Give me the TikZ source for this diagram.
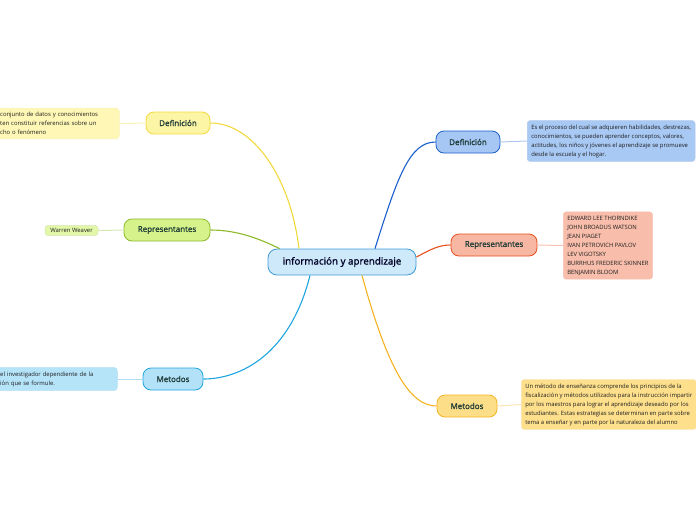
\documentclass[tikz,border=0pt]{standalone}
\usepackage{fontspec}
\setmainfont{Open Sans}
\newfontfamily\semibold{Open Sans}[FakeBold=1.3]
\usepackage{tikz}
\usetikzlibrary{calc}

\definecolor{centerfill}{HTML}{CDE9FA}
\definecolor{centerline}{HTML}{3F9BD6}
\definecolor{yelfill}{HTML}{FDF5A6}
\definecolor{yelline}{HTML}{F1D93C}
\definecolor{yelnote}{HTML}{FEF7B5}
\definecolor{grnfill}{HTML}{D5F38A}
\definecolor{grnline}{HTML}{8DBA2A}
\definecolor{grnnote}{HTML}{E2F8A8}
\definecolor{cyafill}{HTML}{B3E2F8}
\definecolor{cyaline}{HTML}{1EA5E0}
\definecolor{cyanote}{HTML}{B5E3F8}
\definecolor{bluefill}{HTML}{A6C7F4}
\definecolor{blueline}{HTML}{1B5FCC}
\definecolor{bluenote}{HTML}{A9C9F5}
\definecolor{redfill}{HTML}{F7B7A2}
\definecolor{redline}{HTML}{E8501E}
\definecolor{rednote}{HTML}{F8BEAB}
\definecolor{orafill}{HTML}{FDDE88}
\definecolor{oraline}{HTML}{F4B422}
\definecolor{oranote}{HTML}{FDDF8C}
\definecolor{labeltext}{HTML}{1D3A36}

\begin{document}
\begin{tikzpicture}[
    x=1pt, y=-1pt,
    central/.style={
        draw=centerline,
        fill=centerfill,
        line width=0.8pt,
        rounded corners=9pt,
        minimum width=148pt,
        minimum height=26pt,
        text=black!85!blue,
        font=\semibold\fontsize{9.8}{11}\selectfont
    },
    topic/.style={
        draw=#1line,
        fill=#1fill,
        line width=0.8pt,
        rounded corners=8pt,
        minimum height=22pt,
        inner xsep=6pt,
        text=labeltext,
        font=\semibold\fontsize{8}{9}\selectfont
    },
    note/.style={
        draw=#1line!35,
        fill=#1note,
        line width=0.5pt,
        rounded corners=3pt,
        align=left,
        inner sep=4pt,
        text=black!88,
        font=\fontsize{5.9}{9}\selectfont
    },
    branch/.style={
        draw=#1line,
        line width=1.1pt
    },
    twig/.style={
        draw=#1line!35,
        line width=1pt
    }
]

\useasboundingbox (0,0) rectangle (696,520);
\clip (0,0) rectangle (696,520);

% Centre
\node[central] (c) at (342,262) {información y aprendizaje};

% Left side
\node[topic=yel, minimum width=64pt] (defl) at (178,123) {Definición};
\node[topic=grn, minimum width=86pt] (repl) at (167,230) {Representantes};
\node[topic=cya, minimum width=60pt] (metl) at (173,379) {Metodos};

\node[note=yel, anchor=west, text width=109pt, inner xsep=10pt] (defnl) at (-10,123.5)
    {conjunto de datos y conocimientos\\ten constituir referencias sobre un\\cho o fenómeno};
\node[note=grn, inner sep=3pt, minimum width=53pt, font=\fontsize{5.9}{7}\selectfont] (repnl) at (71.5,230.5)
    {Warren Weaver};
\node[note=cya, anchor=west, text width=107pt, inner xsep=10pt] (metnl) at (-10,379)
    {el investigador dependiente de la\\ión que se formule.};

% Right side
\node[topic=blue, minimum width=64pt] (defr) at (468,142) {Definición};
\node[topic=red, minimum width=86pt] (repr) at (494,245) {Representantes};
\node[topic=ora, minimum width=60pt] (metr) at (467,406) {Metodos};

\node[note=blue, anchor=west] (defnr) at (527,141)
    {Es el proceso del cual se adquieren habilidades, destrezas,\\
     conocimientos, se pueden aprender conceptos, valores,\\
     actitudes, los niños y jóvenes el aprendizaje se promueve\\
     desde la escuela y el hogar.};
\node[note=red, anchor=west] (repnr) at (563,245.5)
    {EDWARD LEE THORNDIKE\\JOHN BROADUS WATSON\\JEAN PIAGET\\IVAN PETROVICH PAVLOV\\
     LEV VIGOTSKY\\BURRHUS FREDERIC SKINNER\\BENJAMIN BLOOM};
\node[note=ora, anchor=west] (metnr) at (521,404.5)
    {Un método de enseñanza comprende los principios de la\\
     fiscalización y métodos utilizados para la instrucción impartir\\
     por los maestros para lograr el aprendizaje deseado por los\\
     estudiantes. Estas estrategias se determinan en parte sobre\\
     tema a enseñar y en parte por la naturaleza del alumno};

% Branches from the centre
\draw[branch=yel] ($(c.north)+(-43,0)$) .. controls (290,175) and (252,123) .. (defl.east);
\draw[branch=grn] ($(c.north west)+(12,0)$) .. controls (258,238) and (236,230) .. (repl.east);
\draw[branch=cya] ($(c.south)+(-32,0)$) .. controls (290,355) and (240,379) .. (metl.east);
\draw[branch=blue] ($(c.north)+(33,0)$) .. controls (398,175) and (410,142) .. (defr.west);
\draw[branch=red] ($(c.east)+(0,-5)$) .. controls (430,250) and (438,245) .. (repr.west);
\draw[branch=ora] ($(c.south)+(20,0)$) .. controls (388,370) and (410,406) .. (metr.west);

% Twigs to the notes
\draw[twig=yel] (defnl.east) -- (defl.west);
\draw[twig=grn] (repnl.east) -- (repl.west);
\draw[twig=cya] (metnl.east) -- (metl.west);
\draw[twig=blue] (defr.east) -- (defnr.west);
\draw[twig=red] (repr.east) -- (repnr.west);
\draw[twig=ora] (metr.east) -- (metnr.west);

\end{tikzpicture}
\end{document}
